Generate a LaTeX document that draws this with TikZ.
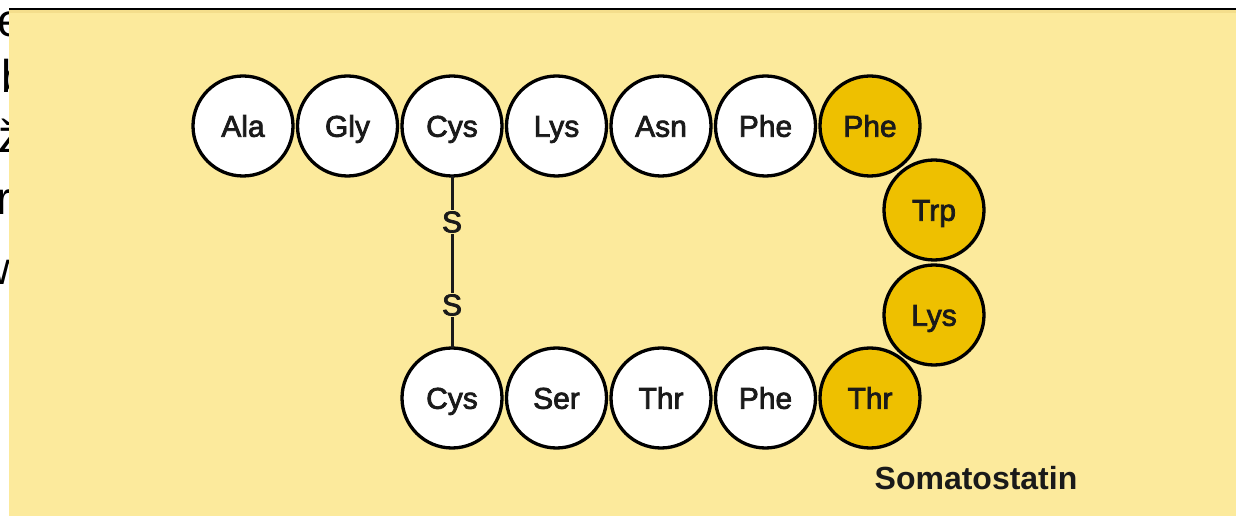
\documentclass[tikz,border=0pt]{standalone}
\usepackage{fontspec}
\setmainfont{Liberation Sans}
\newfontfamily\medfont{Liberation Sans}[FakeBold=2.5]
\definecolor{panel}{HTML}{FCEA9C}
\definecolor{panelband}{HTML}{F4DE8C}
\definecolor{gold}{HTML}{EEC000}
\definecolor{ink}{HTML}{1A1A1A}
\tikzset{
  res/.style={circle, draw=black, line width=3.3bp, minimum size=100bp, inner sep=0pt, outer sep=0pt,
    text height=21.5bp, text depth=0pt, text=ink,
    font=\medfont\fontsize{30bp}{30bp}\selectfont},
  wres/.style={res, fill=white},
  gres/.style={res, fill=gold},
  sulf/.style={inner sep=1.5bp, text=ink, font=\medfont\fontsize{30bp}{30bp}\selectfont},
  bond/.style={line width=3bp, draw=ink},
  frag/.style={anchor=west, inner sep=0pt, font=\fontsize{46bp}{46bp}\selectfont}
}
\begin{document}
\begin{tikzpicture}[x=1bp,y=-1bp]
\useasboundingbox (0,0) rectangle (1236,516);
\fill[white] (0,0) rectangle (1236,516);
% cut-off text fragments on the left edge
\begin{scope}
  \clip (0,0) rectangle (9,516);
  \node[frag] (f1) at (-3,24) {e};
  \node[frag] (f2) at (1,76) {b};
  \node[frag] (f3) at (-2,136) {ž};
  \node[frag] (f4) at (-4,202) {r};
  \node[frag] (f5) at (-8,272) {w};
\end{scope}
% panel
\fill[panel] (9,10) rectangle (1236,516);
\fill[panelband] (9,10) rectangle (1236,13);
\draw[line width=2bp] (9,9) -- (1236,9);
% top row
\node[wres] (ala)  at (243,126)   {Ala};
\node[wres] (gly)  at (347.5,126) {Gly};
\node[wres] (cys1) at (452,126)   {Cys};
\node[wres] (lys1) at (556.5,126) {Lys};
\node[wres] (asn)  at (661,126)   {Asn};
\node[wres] (phe1) at (765.5,126) {Phe};
\node[gres] (phe2) at (870,126)   {Phe};
% right side
\node[gres] (trp)  at (934,210)   {Trp};
\node[gres] (lys2) at (934,315)   {Lys};
% bottom row
\node[gres] (thr2) at (870,398)   {Thr};
\node[wres] (phe3) at (765.5,398) {Phe};
\node[wres] (thr1) at (661,398)   {Thr};
\node[wres] (ser)  at (556.5,398) {Ser};
\node[wres] (cys2) at (452,398)   {Cys};
% disulfide bridge
\node[sulf] (s1) at (452,222) {S};
\node[sulf] (s2) at (452,305) {S};
\draw[bond] (cys1.south) -- (s1.north);
\draw[bond] (s1.south) -- (s2.north);
\draw[bond] (s2.south) -- (cys2.north);
% label
\node[font=\bfseries\fontsize{32bp}{32bp}\selectfont, text=ink, inner sep=0pt] (title) at (976,478) {Somatostatin};
\end{tikzpicture}
\end{document}
